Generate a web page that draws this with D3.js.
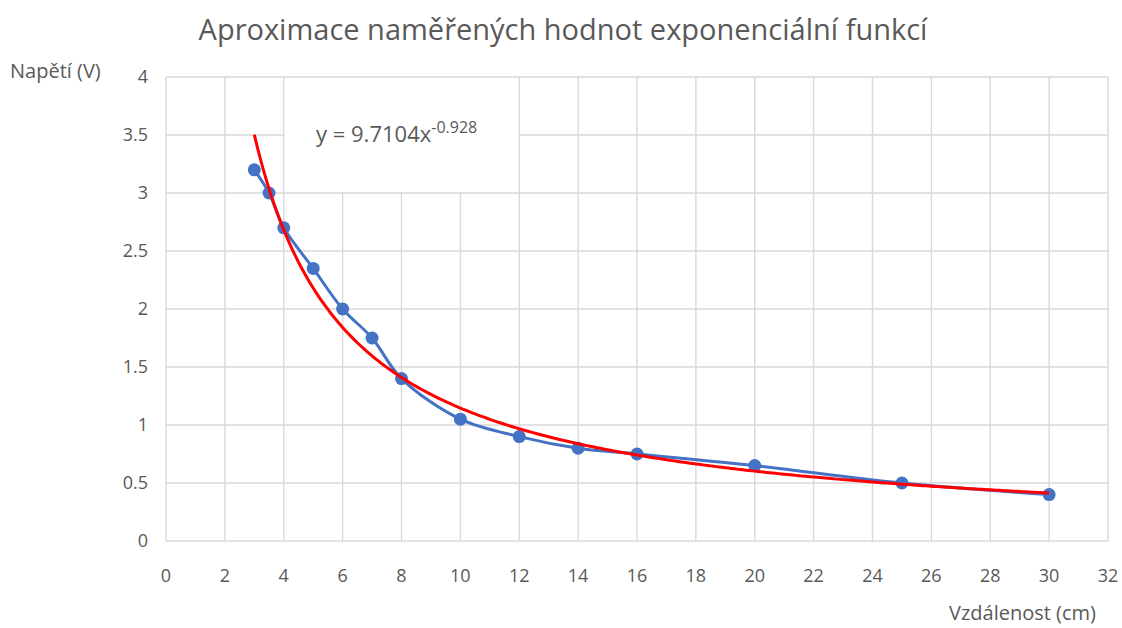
<!DOCTYPE html>
<html>
<head>
<meta charset="utf-8">
<script src="https://cdn.jsdelivr.net/npm/d3@7"></script>
<style>
  body { margin: 0; background: #fff; }
  text { font-family: "Open Sans", "Liberation Sans", sans-serif; fill: #595959; }
</style>
</head>
<body>
<div id="chart"></div>
<script>
const distances = [3, 3.5, 4, 5, 6, 7, 8, 10, 12, 14, 16, 20, 25, 30];
const voltages = [3.2, 3.0, 2.7, 2.35, 2.0, 1.75, 1.4, 1.05, 0.9, 0.8, 0.75, 0.65, 0.5, 0.4];
const xTicks = d3.range(0, 33, 2);
const yTicks = [0, 0.5, 1, 1.5, 2, 2.5, 3, 3.5, 4];
const fitA = 9.7104;
const fitB = -0.928;
const fitRange = [3, 30];

const width = 1122;
const height = 628;
const margin = { top: 77, right: 14, bottom: 87, left: 166 };

const svg = d3
  .select('#chart')
  .append('svg')
  .attr('width', width)
  .attr('height', height);

const x = d3.scaleLinear().domain([0, 32]).range([margin.left, width - margin.right]);
const y = d3.scaleLinear().domain([0, 4]).range([height - margin.bottom, margin.top]);

// grid
svg.append('g')
  .selectAll('line')
  .data(yTicks)
  .join('line')
  .attr('x1', x(0)).attr('x2', x(32))
  .attr('y1', (d) => y(d)).attr('y2', (d) => y(d))
  .attr('stroke', '#d9d9d9').attr('stroke-width', 1.4);

svg.append('g')
  .selectAll('line')
  .data(xTicks)
  .join('line')
  .attr('x1', (d) => x(d)).attr('x2', (d) => x(d))
  .attr('y1', y(0)).attr('y2', y(4))
  .attr('stroke', '#d9d9d9').attr('stroke-width', 1.4);

// tick labels
svg.append('g')
  .selectAll('text')
  .data(xTicks)
  .join('text')
  .attr('x', (d) => x(d))
  .attr('y', y(0) + 41)
  .attr('text-anchor', 'middle')
  .style('font-size', '18px')
  .text((d) => d);

svg.append('g')
  .selectAll('text')
  .data(yTicks)
  .join('text')
  .attr('x', x(0) - 18)
  .attr('y', (d) => y(d) + 6)
  .attr('text-anchor', 'end')
  .style('font-size', '18px')
  .text((d) => d);

// equation label box
svg.append('rect')
  .attr('x', x(4) + 1).attr('y', y(4) + 1)
  .attr('width', x(12) - x(4) - 2).attr('height', y(3) - y(4) - 2)
  .attr('fill', '#fff');

const eq = svg.append('text')
  .attr('x', 316).attr('y', 142)
  .style('font-size', '22px');
eq.append('tspan').text(`y = ${fitA}x`);
eq.append('tspan').attr('dy', -9).style('font-size', '16px').text(fitB);

// measured series
const line = d3.line()
  .x((d) => x(d[0]))
  .y((d) => y(d[1]))
  .curve(d3.curveCatmullRom.alpha(0.5));

const pts = distances.map((d, i) => [d, voltages[i]]);

svg.append('path')
  .datum(pts)
  .attr('d', line)
  .attr('fill', 'none')
  .attr('stroke', '#4472c4')
  .attr('stroke-width', 3);

svg.append('g')
  .selectAll('circle')
  .data(pts)
  .join('circle')
  .attr('cx', (d) => x(d[0]))
  .attr('cy', (d) => y(d[1]))
  .attr('r', 6.5)
  .attr('fill', '#4472c4');

// power trendline from the displayed equation
const fitXs = d3.range(fitRange[0], fitRange[1] + 0.001, 0.1);
const fitPts = fitXs.map((v) => [v, fitA * Math.pow(v, fitB)]);
svg.append('path')
  .datum(fitPts)
  .attr('d', d3.line().x((d) => x(d[0])).y((d) => y(d[1])))
  .attr('fill', 'none')
  .attr('stroke', '#ff0000')
  .attr('stroke-width', 3);

// titles
svg.append('text')
  .attr('x', 563).attr('y', 40)
  .attr('text-anchor', 'middle')
  .style('font-size', '29px')
  .text('Aproximace naměřených hodnot exponenciální funkcí');

svg.append('text')
  .attr('x', 10).attr('y', 78)
  .style('font-size', '20px')
  .text('Napětí (V)');

svg.append('text')
  .attr('x', 1096).attr('y', 620)
  .attr('text-anchor', 'end')
  .style('font-size', '20px')
  .text('Vzdálenost (cm)');
</script>
</body>
</html>
